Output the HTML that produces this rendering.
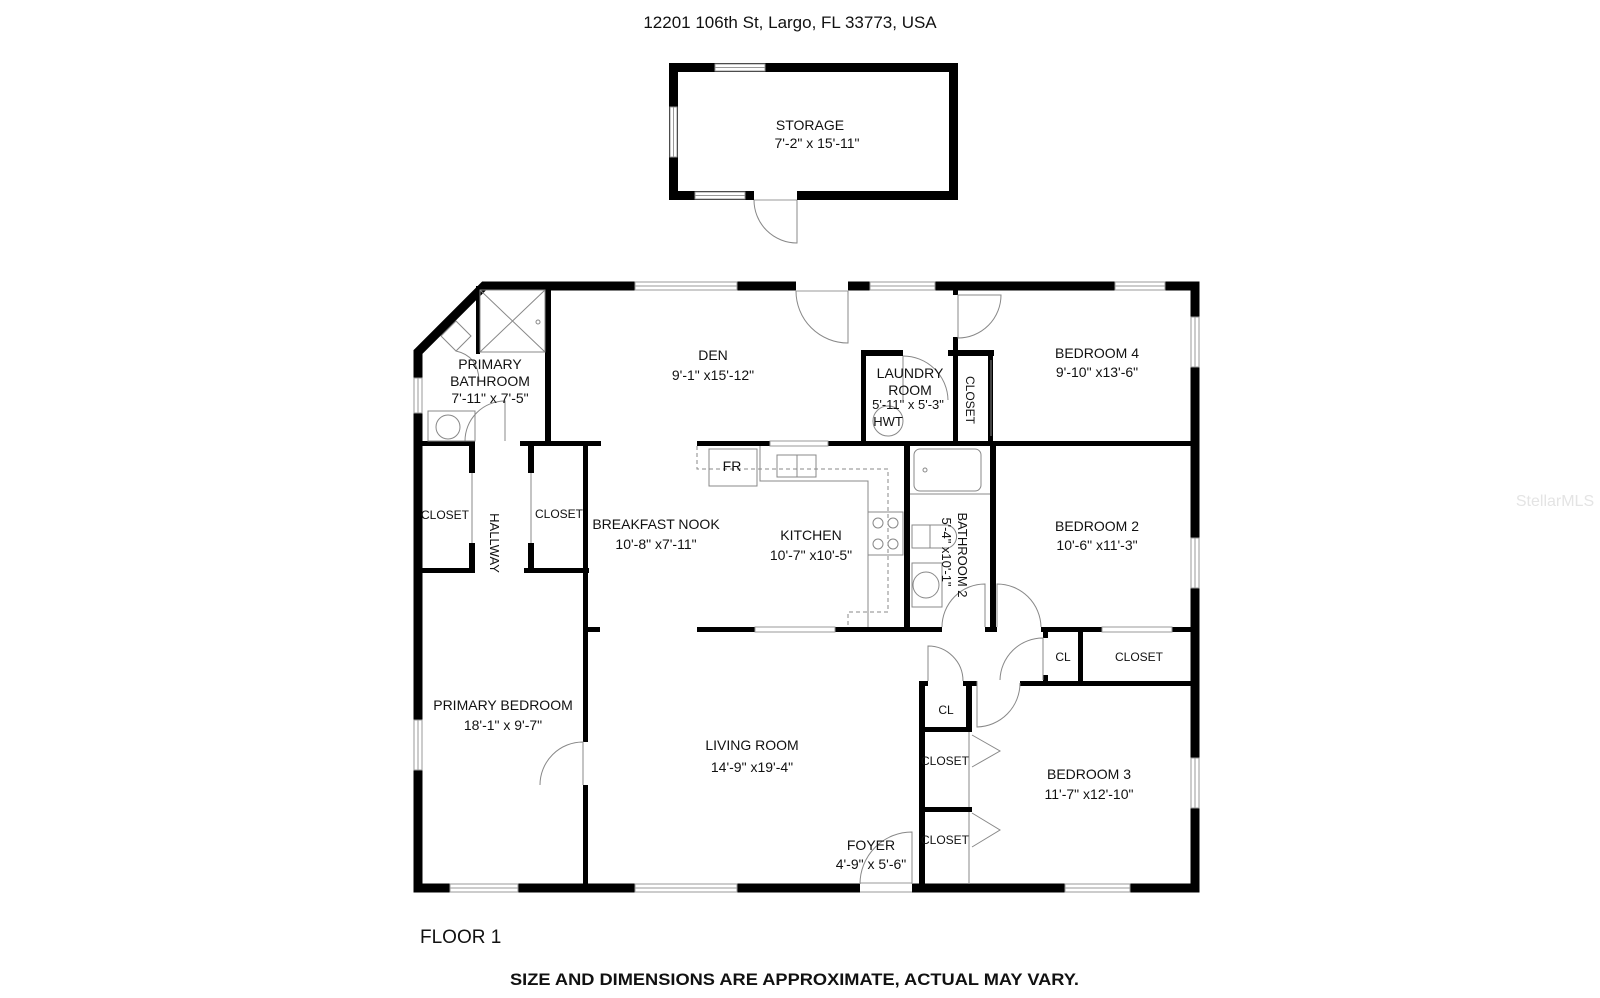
<!DOCTYPE html>
<html><head><meta charset="utf-8"><style>
html,body{margin:0;padding:0;background:#fff;}
svg{display:block;}
text{font-family:"Liberation Sans",sans-serif;fill:#111;}
</style></head><body>
<svg width="1600" height="998" viewBox="0 0 1600 998" xmlns="http://www.w3.org/2000/svg">
<rect width="1600" height="998" fill="#fff"/>
<text x="790" y="28" font-size="17" text-anchor="middle">12201 106th St, Largo, FL 33773, USA</text>
<text x="1555" y="506" font-size="16" fill="#e6e6e6" style="fill:#e4e4e4" text-anchor="middle">StellarMLS</text>

<!-- storage -->
<g fill="#000">
<rect x="669" y="63" width="289" height="9"/>
<rect x="669" y="191" width="289" height="9"/>
<rect x="669" y="63" width="9" height="137"/>
<rect x="949" y="63" width="9" height="137"/>
</g>
<g fill="#fff" stroke="#999" stroke-width="1">
<rect x="715" y="64" width="50" height="7"/><line x1="715" y1="67.5" x2="765" y2="67.5"/>
<rect x="670" y="107" width="7" height="50"/><line x1="673.5" y1="107" x2="673.5" y2="157"/>
<rect x="695" y="192" width="50" height="7"/><line x1="695" y1="195.5" x2="745" y2="195.5"/>
<rect x="754" y="191" width="43" height="9" stroke="none"/>
<line x1="754" y1="200" x2="797" y2="200"/>
</g>
<path d="M754 200 A43 43 0 0 0 797 243 L797 200" fill="none" stroke="#888" stroke-width="1"/>
<text x="810" y="130" font-size="14" text-anchor="middle">STORAGE</text>
<text x="817" y="148" font-size="14" text-anchor="middle">7'-2"  x 15'-11"</text>

<!-- main walls -->
<g stroke="#000" fill="none" stroke-linecap="square">
<!-- exterior -->
<path d="M418 352 L484 286 L1195 286 L1195 888 L418 888 Z" stroke-width="9"/>
</g>
<g fill="#000">
<!-- primary bath -->
<rect x="545" y="282" width="6" height="164"/>
<rect x="476" y="286" width="4" height="68"/>
<rect x="414" y="441" width="61" height="5"/>
<rect x="520" y="441" width="81" height="5"/>
<!-- hallway closets -->
<rect x="469" y="446" width="6" height="27"/>
<rect x="469" y="543" width="6" height="30"/>
<rect x="414" y="568" width="61" height="5"/>
<rect x="528" y="446" width="6" height="27"/>
<rect x="528" y="543" width="6" height="30"/>
<rect x="524" y="568" width="65" height="5"/>
<!-- nook wall -->
<rect x="583" y="441" width="5" height="301"/>
<rect x="583" y="785" width="5" height="103"/>
<rect x="588" y="627" width="12" height="5"/>
<!-- kitchen top wall -->
<rect x="697" y="441" width="498" height="5"/>
<!-- laundry -->
<rect x="861" y="350" width="5" height="91"/>
<rect x="861" y="350" width="42" height="6"/>
<rect x="948" y="350" width="46" height="6"/>
<rect x="953" y="282" width="5" height="13"/>
<rect x="953" y="337" width="5" height="104"/>
<rect x="988" y="350" width="5" height="91"/>
<!-- bath2 / bedroom2 -->
<rect x="904" y="446" width="6" height="181"/>
<rect x="990" y="446" width="6" height="181"/>
<!-- kitchen bottom wall -->
<rect x="697" y="627" width="245" height="5"/>
<rect x="985" y="627" width="12" height="5"/>
<rect x="1041" y="627" width="154" height="5"/>
<!-- CL boxes -->
<rect x="1043" y="627" width="5" height="11"/>
<rect x="1043" y="675" width="5" height="11"/>
<rect x="1078" y="627" width="5" height="59"/>
<rect x="1020" y="681" width="175" height="5"/>
<rect x="919" y="681" width="9" height="5"/>
<rect x="963" y="681" width="14" height="5"/>
<rect x="919" y="681" width="6" height="207"/>
<rect x="966" y="681" width="6" height="51"/>
<rect x="925" y="727" width="47" height="5"/>
<rect x="925" y="807" width="47" height="5"/>
<rect x="966" y="807" width="6" height="5"/>
</g>
<!-- windows on walls -->
<g fill="#fff" stroke="#999" stroke-width="1">
<rect x="635" y="282" width="102" height="8"/><line x1="635" y1="286" x2="737" y2="286"/>
<rect x="870" y="282" width="65" height="8"/><line x1="870" y1="286" x2="935" y2="286"/>
<rect x="1115" y="282" width="50" height="8"/><line x1="1115" y1="286" x2="1165" y2="286"/>
<rect x="1191" y="317" width="8" height="50"/><line x1="1195" y1="317" x2="1195" y2="367"/>
<rect x="1191" y="538" width="8" height="50"/><line x1="1195" y1="538" x2="1195" y2="588"/>
<rect x="1191" y="758" width="8" height="50"/><line x1="1195" y1="758" x2="1195" y2="808"/>
<rect x="414" y="378" width="8" height="35"/><line x1="418" y1="378" x2="418" y2="413"/>
<rect x="414" y="720" width="8" height="50"/><line x1="418" y1="720" x2="418" y2="770"/>
<rect x="450" y="884" width="68" height="8"/><line x1="450" y1="888" x2="518" y2="888"/>
<rect x="635" y="884" width="102" height="8"/><line x1="635" y1="888" x2="737" y2="888"/>
<rect x="1065" y="884" width="65" height="8"/><line x1="1065" y1="888" x2="1130" y2="888"/>
<rect x="770" y="441" width="58" height="5"/>
<rect x="755" y="627" width="80" height="5"/>
<rect x="1102" y="627" width="70" height="5"/>
<!-- door gaps -->
<rect x="796" y="281" width="52" height="10" stroke="none"/>
<rect x="860" y="883" width="52" height="10" stroke="none"/>
</g>
<line x1="796" y1="291" x2="848" y2="291" stroke="#999"/>
<line x1="860" y1="883" x2="912" y2="883" stroke="#999"/>
<line x1="860" y1="892" x2="912" y2="892" stroke="#999"/>

<!-- doors & fixtures -->
<g fill="none" stroke="#888" stroke-width="1">
<path d="M796 291 A52 52 0 0 0 848 343 L848 291"/>
<path d="M1001 295 A43 43 0 0 1 958 338 L958 295 Z"/>
<path d="M903 356 L903 400"/>
<path d="M465 441 A40 40 0 0 1 505 401 L505 441"/>
<path d="M540 785 A43 43 0 0 1 583 742 L583 785"/>
<path d="M860 884 A52 52 0 0 1 912 832 L912 884"/>
<path d="M942 627 A43 43 0 0 1 985 584 L985 627"/>
<path d="M997 627 L997 584 A44 44 0 0 1 1041 627"/>
<path d="M1000 680 A43 43 0 0 1 1043 638 L1043 680"/>
<path d="M928 681 L928 646 A35 35 0 0 1 963 681"/>
<path d="M977 681 L977 727 A44 44 0 0 0 1020 683"/>
<path d="M972 735 L1000 751 L972 767"/>
<path d="M972 813 L1000 830 L972 847"/>
<line x1="969" y1="732" x2="969" y2="807"/>
<line x1="969" y1="812" x2="969" y2="884"/>
<line x1="472" y1="473" x2="472" y2="543"/>
<line x1="531" y1="473" x2="531" y2="543"/>
<line x1="991" y1="360" x2="991" y2="436"/>
<!-- shower -->
<rect x="480" y="290" width="65" height="62"/>
<path d="M480 290 L545 352 M545 290 L480 352"/>
<circle cx="538" cy="322" r="2"/>
<!-- bath sink -->
<rect x="428" y="411" width="47" height="30"/>
<circle cx="448" cy="427" r="12"/>
<!-- toilet primary -->
<path d="M441 336 L456 321 L471 336 L456 351 Z"/>
<path d="M456 351 Q478 356 479 380"/>
<!-- kitchen -->
<rect x="709" y="449" width="48" height="37"/>
<rect x="777" y="455" width="20" height="22"/>
<rect x="797" y="455" width="19" height="22"/>
<path d="M760 446 L760 481 L868 481 L868 627"/>
<path d="M697 446 L697 469 L888 469 L888 612 L848 612 L848 627" stroke-dasharray="4 3"/>
<rect x="868" y="512" width="35" height="43"/>
<circle cx="878" cy="523" r="5"/><circle cx="893" cy="523" r="5"/>
<circle cx="878" cy="544" r="5"/><circle cx="893" cy="544" r="5"/>
<!-- laundry HWT -->
<circle cx="888" cy="421" r="15"/>
<path d="M903 356 A45 45 0 0 1 948 400"/>
<!-- bath2 -->
<rect x="914" y="449" width="67" height="42" rx="6"/>
<line x1="910" y1="494" x2="990" y2="494"/>
<rect x="912" y="525" width="18" height="23"/>
<path d="M930 525 L948 525 A12 12 0 0 1 948 548 L930 548"/>
<rect x="912" y="563" width="30" height="44"/>
<circle cx="926" cy="585" r="13"/>
<circle cx="925" cy="470" r="2"/>
</g>

<!-- labels -->
<g font-size="14" text-anchor="middle">
<text x="713" y="360">DEN</text>
<text x="713" y="380">9'-1"   x15'-12"</text>
<text x="910" y="378">LAUNDRY</text>
<text x="910" y="395">ROOM</text>
<text x="908" y="409" font-size="13">5'-11" x 5'-3"</text>
<text x="888" y="426" font-size="13">HWT</text>
<text x="1097" y="358">BEDROOM 4</text>
<text x="1097" y="377">9'-10" x13'-6"</text>
<text x="490" y="369">PRIMARY</text>
<text x="490" y="386">BATHROOM</text>
<text x="490" y="403">7'-11" x 7'-5"</text>
<text x="445" y="519" font-size="12">CLOSET</text>
<text x="559" y="518" font-size="12">CLOSET</text>
<text x="656" y="529">BREAKFAST NOOK</text>
<text x="656" y="549">10'-8" x7'-11"</text>
<text x="732" y="471">FR</text>
<text x="811" y="540">KITCHEN</text>
<text x="811" y="560">10'-7" x10'-5"</text>
<text x="1097" y="531">BEDROOM 2</text>
<text x="1097" y="550">10'-6" x11'-3"</text>
<text x="1063" y="661" font-size="12">CL</text>
<text x="1139" y="661" font-size="12">CLOSET</text>
<text x="946" y="714" font-size="12">CL</text>
<text x="945" y="765" font-size="12">CLOSET</text>
<text x="945" y="844" font-size="12">CLOSET</text>
<text x="503" y="710">PRIMARY BEDROOM</text>
<text x="503" y="730">18'-1" x 9'-7"</text>
<text x="752" y="750">LIVING ROOM</text>
<text x="752" y="772">14'-9" x19'-4"</text>
<text x="871" y="850">FOYER</text>
<text x="871" y="869">4'-9" x 5'-6"</text>
<text x="1089" y="779">BEDROOM 3</text>
<text x="1089" y="799">11'-7" x12'-10"</text>
<text transform="translate(966,400) rotate(90)" font-size="12">CLOSET</text>
<text transform="translate(490,543) rotate(90)" font-size="13">HALLWAY</text>
<text transform="translate(958,555) rotate(90)" font-size="13">BATHROOM 2</text>
<text transform="translate(942,552) rotate(90)" font-size="13">5'-4"  x10'-1"</text>
</g>
<text x="420" y="943" font-size="19">FLOOR 1</text>
<text x="510" y="985" font-size="17" font-weight="bold" textLength="569" lengthAdjust="spacingAndGlyphs">SIZE AND DIMENSIONS ARE APPROXIMATE, ACTUAL MAY VARY.</text>
</svg>
</body></html>
